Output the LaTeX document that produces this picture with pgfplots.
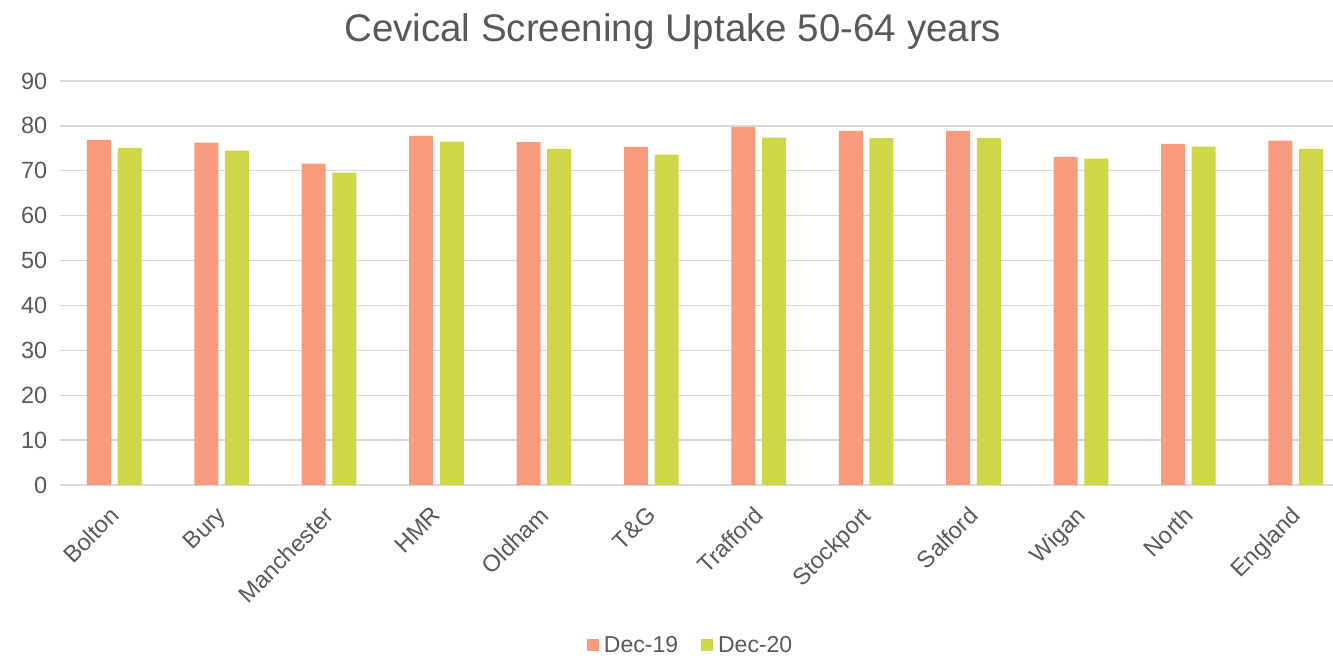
\documentclass[border=0pt]{standalone}
\usepackage{pgfplots}
\pgfplotsset{compat=1.18}
\usepackage{fontspec}
\setmainfont{Liberation Sans}
\definecolor{cA}{HTML}{F79A7D}
\definecolor{cB}{HTML}{CFD648}
\definecolor{txt}{HTML}{595959}
\definecolor{gridc}{HTML}{D9D9D9}
\begin{document}
\begin{tikzpicture}[x=1bp,y=1bp]
\useasboundingbox (-60.5bp,-173bp) rectangle (1272.5bp,485bp);
\begin{axis}[
  at={(0,0)}, anchor=south west,
  scale only axis, width=1289bp, height=404bp,
  ybar=6.6bp, bar width=24bp,
  xmin=-0.5, xmax=11.5, ymin=0, ymax=90,
  ytick={0,10,...,90},
  xtick={0,...,11},
  xticklabels={Bolton,Bury,Manchester,HMR,Oldham,T\&G,Trafford,Stockport,Salford,Wigan,North,England},
  tick label style={text=txt, font=\fontsize{23.5bp}{27bp}\selectfont},
  /pgf/number format/assume math mode=true,
  xticklabel style={rotate=45, anchor=north east, inner sep=0pt, xshift=-18.4bp, yshift=-10bp},
  yticklabel style={inner sep=0pt, xshift=-13bp},
  major tick length=0pt,
  ymajorgrids, xmajorgrids=false,
  y grid style={draw=gridc, line width=1.3bp},
  axis line style={draw=none},
  axis x line*=bottom, axis y line*=left,
  title={Cevical Screening Uptake 50-64 years},
  title style={at={(rel axis cs:0.475,1)}, anchor=center, yshift=43bp, text=txt, font=\fontsize{38.5bp}{44bp}\selectfont},
  legend style={at={(rel axis cs:0.49,0)}, anchor=center, yshift=-160bp, draw=none, legend columns=2, text=txt, font=\fontsize{23bp}{27bp}\selectfont, /tikz/every even column/.append style={column sep=18bp}, nodes={inner xsep=5bp}},
  legend image code/.code={\fill[#1] (0bp,-6bp) rectangle (12bp,6bp);},
]
\addplot[fill=cA, draw=none] coordinates {(0,76.9) (1,76.3) (2,71.6) (3,77.8) (4,76.4) (5,75.3) (6,79.8) (7,78.9) (8,78.9) (9,73.1) (10,76.0) (11,76.7)};
\addplot[fill=cB, draw=none] coordinates {(0,75.1) (1,74.5) (2,69.6) (3,76.5) (4,74.9) (5,73.6) (6,77.4) (7,77.3) (8,77.3) (9,72.7) (10,75.4) (11,74.9)};
\legend{Dec-19,Dec-20}
\end{axis}
\end{tikzpicture}
\end{document}
